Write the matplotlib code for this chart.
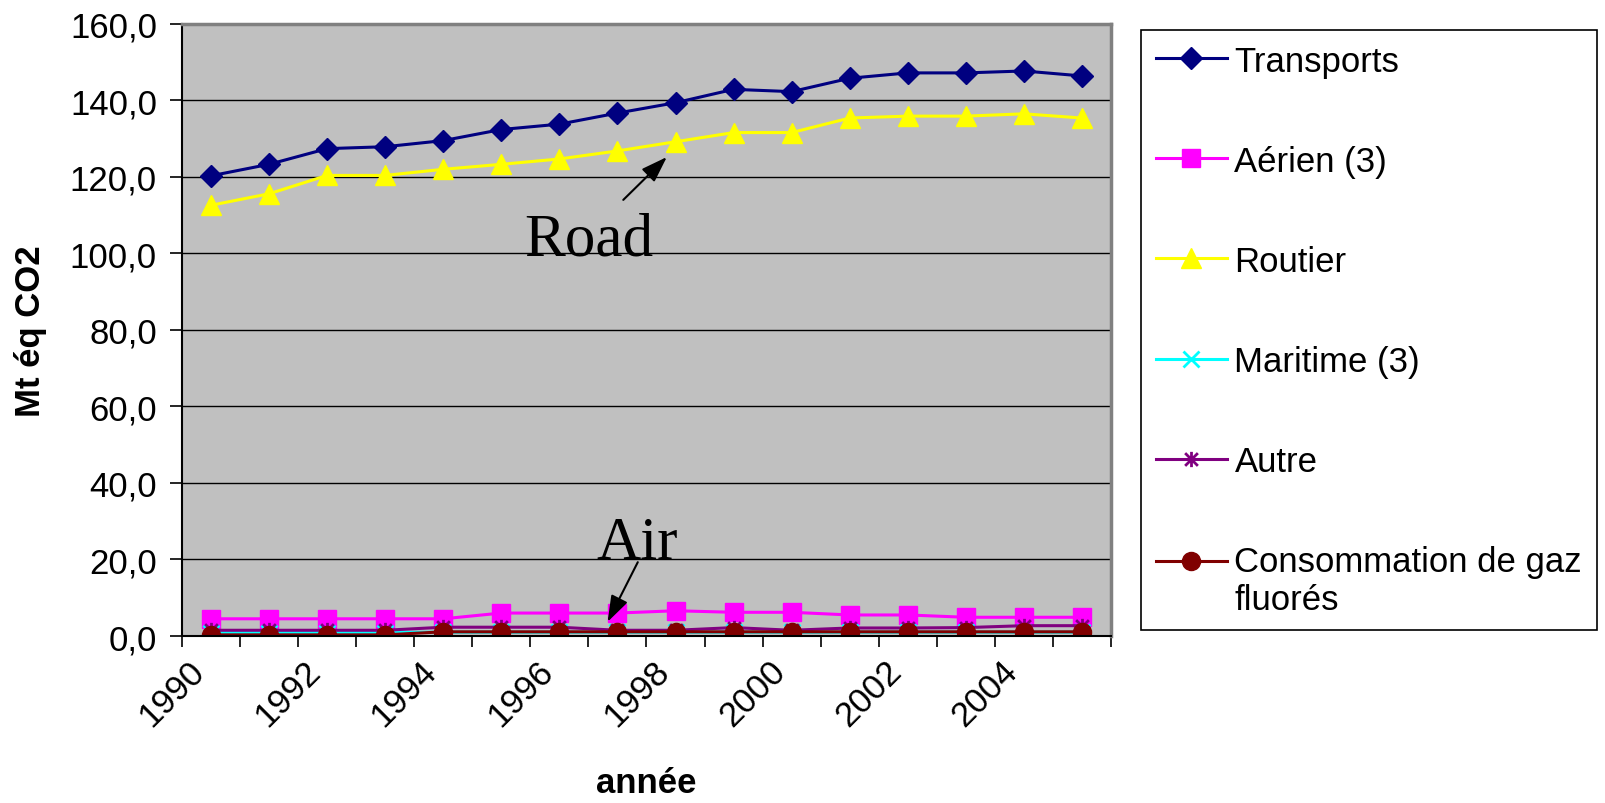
import numpy as np
import matplotlib
matplotlib.use('Agg')
import matplotlib.pyplot as plt
from matplotlib.path import Path
from matplotlib.ticker import FuncFormatter

years = list(range(1990, 2006))
transports = [120.3, 123.3, 127.4, 127.9, 129.5, 132.4, 133.8, 136.7, 139.4, 142.9, 142.3, 145.8, 147.2, 147.2, 147.7, 146.4]
aerien = [4.5, 4.5, 4.5, 4.5, 4.5, 6.0, 6.0, 6.0, 6.6, 6.2, 6.2, 5.5, 5.5, 4.9, 4.9, 4.9]
routier = [112.6, 115.6, 120.4, 120.4, 122.0, 123.3, 124.7, 126.8, 129.2, 131.6, 131.6, 135.4, 135.9, 135.9, 136.5, 135.4]
maritime = [0.9, 0.9, 0.9, 0.9, 1.0, 1.0, 1.0, 1.0, 1.0, 1.0, 1.0, 1.0, 1.0, 1.0, 1.0, 1.0]
autre = [1.5, 1.5, 1.5, 1.5, 2.3, 2.3, 2.3, 1.5, 1.5, 2.2, 1.5, 2.1, 2.1, 2.2, 2.7, 2.7]
gaz = [0.3, 0.3, 0.3, 0.3, 1.1, 1.1, 1.1, 1.1, 1.1, 1.1, 1.1, 1.1, 1.1, 1.1, 1.1, 1.1]

plt.rcParams['font.family'] = ['Liberation Sans', 'DejaVu Sans']

# marqueur "étoile" façon Excel (x + barre verticale)
star = Path([(-1, -1), (1, 1), (-1, 1), (1, -1), (0, -1.2), (0, 1.2)],
            [Path.MOVETO, Path.LINETO, Path.MOVETO, Path.LINETO, Path.MOVETO, Path.LINETO])

fig = plt.figure(figsize=(16.06, 8.04), dpi=100)
ax = fig.add_axes([0.1133, 0.2077, 0.5785, 0.7613])
ax.set_facecolor('#C0C0C0')

x = np.arange(len(years))
lw = 2.2
ax.plot(x, transports, color='#000080', lw=lw, marker='D', ms=11, label='Transports')
ax.plot(x, aerien, color='#FF00FF', lw=lw, marker='s', ms=13, label='Aérien (3)')
ax.plot(x, routier, color='#FFFF00', lw=lw, marker='^', ms=15, label='Routier')
ax.plot(x, maritime, color='#00FFFF', lw=lw, marker='x', ms=11, mew=2, label='Maritime (3)')
ax.plot(x, autre, color='#800080', lw=lw, marker=star, ms=11, mew=2, mfc='none', label='Autre')
ax.plot(x, gaz, color='#800000', lw=lw, marker='o', ms=13, label='Consommation de gaz\nfluorés')

ax.set_xlim(-0.5, len(years) - 0.5)
ax.set_ylim(0, 160)
ax.set_yticks(np.arange(0, 161, 20))
ax.yaxis.set_major_formatter(FuncFormatter(lambda v, p: f'{v:.1f}'.replace('.', ',')))
ax.grid(axis='y', color='black', lw=1)
ax.set_axisbelow(True)

ax.set_xticks(x[::2])
ax.set_xticklabels([str(y) for y in years[::2]], rotation=45, ha='right')
ax.set_xticks(np.arange(-0.5, len(years), 1), minor=True)
ax.tick_params(axis='x', which='major', length=0, pad=13, labelsize=25)
ax.tick_params(axis='x', which='minor', length=8, width=1.2, direction='out')
ax.tick_params(axis='y', length=9, width=1.2, pad=9, labelsize=25)

for s in ['top', 'right']:
    ax.spines[s].set_color('#808080')
    ax.spines[s].set_linewidth(2.5)
for s in ['left', 'bottom']:
    ax.spines[s].set_color('black')
    ax.spines[s].set_linewidth(1.5)

ax.set_ylabel('Mt éq CO2', fontsize=25, fontweight='bold')
ax.yaxis.set_label_coords(-0.145, 0.5)
ax.set_xlabel('année', fontsize=25, fontweight='bold')
ax.xaxis.set_label_coords(0.5, -0.212)

# annotations
arrow = dict(arrowstyle='-|>,head_length=1.6,head_width=0.55', lw=1.5, color='black',
             shrinkA=0, shrinkB=0)
ax.text(6.5, 99.6, 'Road', fontsize=44, family='Liberation Serif', ha='center', va='baseline')
ax.annotate('', xy=(x[8] - 0.15, routier[8] - 4), xytext=(7.1, 114), arrowprops=arrow)
ax.text(7.34, 20.4, 'Air', fontsize=44, family='Liberation Serif', ha='center', va='baseline')
ax.annotate('', xy=(x[7] - 0.17, aerien[7] - 2.3), xytext=(7.35, 19.3), arrowprops=arrow)

leg = ax.legend(loc='upper left', bbox_to_anchor=(0.7105, 0.9614, 0.284, 0.0),
                bbox_transform=fig.transFigure, mode='expand', borderaxespad=0,
                fontsize=25, handlelength=2.05, handletextpad=0.22, borderpad=0.42,
                labelspacing=1.93, fancybox=False, framealpha=1, edgecolor='black')
leg.get_frame().set_linewidth(1.2)
# repère de la dernière entrée aligné sur la première ligne du texte
h = leg.legend_handles[-1]
h.set_ydata(np.asarray(h.get_ydata()) + 14.5)

plt.savefig('out.png', dpi=100)
